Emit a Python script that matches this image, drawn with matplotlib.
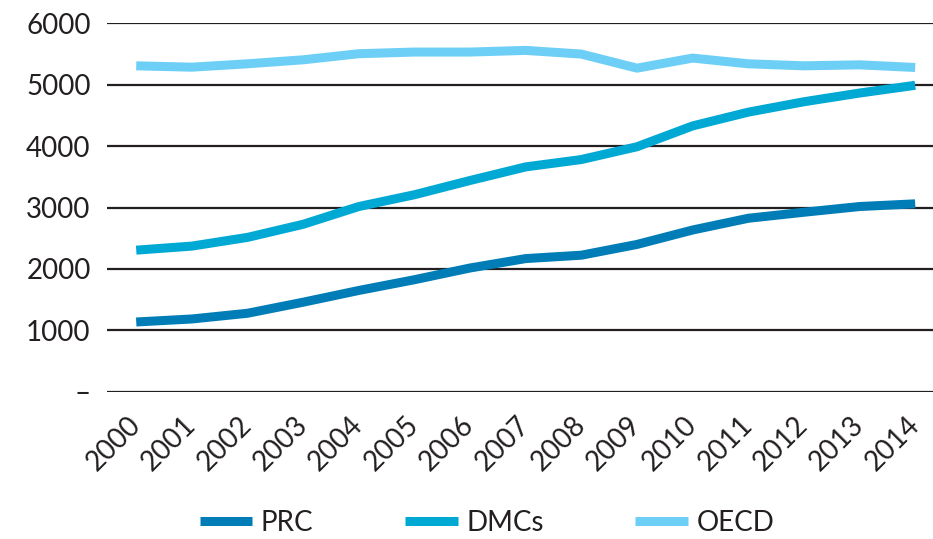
import matplotlib
matplotlib.use('Agg')
import matplotlib.pyplot as plt
import matplotlib.transforms as mtransforms
import numpy as np

plt.rcParams['font.family'] = ['Lato', 'DejaVu Sans']

years = [str(y) for y in range(2000, 2015)]
prc = [1137, 1186, 1279, 1459, 1650, 1825, 2016, 2169, 2224, 2399, 2634, 2825, 2923, 3016, 3060]
dmcs = [2306, 2372, 2514, 2727, 3016, 3208, 3440, 3661, 3781, 3989, 4328, 4552, 4721, 4863, 4989]
oecd = [5306, 5284, 5339, 5404, 5503, 5530, 5530, 5557, 5497, 5268, 5432, 5339, 5306, 5322, 5279]
yticks = [0, 1000, 2000, 3000, 4000, 5000, 6000]
ytick_labels = ['–', '1000', '2000', '3000', '4000', '5000', '6000']

c_prc = '#007DB6'
c_dmc = '#00A8D4'
c_oecd = '#6DCFF6'

fig = plt.figure(figsize=(9.33, 5.39), dpi=100)
ax = fig.add_axes([0.115, 0.273, 0.885, 0.684])

x = np.arange(len(years))
lw = 6.5
ax.plot(x, prc, color=c_prc, lw=lw, label='PRC', solid_capstyle='butt', zorder=3)
ax.plot(x, dmcs, color=c_dmc, lw=lw, label='DMCs', solid_capstyle='butt', zorder=3)
ax.plot(x, oecd, color=c_oecd, lw=lw, label='OECD', solid_capstyle='butt', zorder=3)

ax.set_ylim(0, 6000)
ax.set_xlim(-0.52, 14.32)
ax.set_yticks(yticks)
ax.set_yticklabels(ytick_labels)
ax.yaxis.grid(True, color='#231F20', lw=1.6)
ax.set_axisbelow(True)
for s in ax.spines.values():
    s.set_visible(False)
ax.tick_params(length=0, labelsize=20, colors='#231F20')
ax.tick_params(axis='y', pad=12)

ax.set_xticks(x)
ax.set_xticklabels(years, rotation=45, ha='right', va='center', rotation_mode='anchor')
offset = mtransforms.ScaledTranslation(33 / 100, 0, fig.dpi_scale_trans)
for lab in ax.get_xticklabels():
    lab.set_transform(lab.get_transform() + offset)
ax.tick_params(axis='x', pad=21)

fig.legend(loc='lower center', bbox_to_anchor=(0.522, -0.04), ncol=3, frameon=False,
           fontsize=20, handlelength=1.9, handletextpad=0.3, columnspacing=3.3,
           labelcolor='#231F20')

fig.savefig('out.png', dpi=100)
